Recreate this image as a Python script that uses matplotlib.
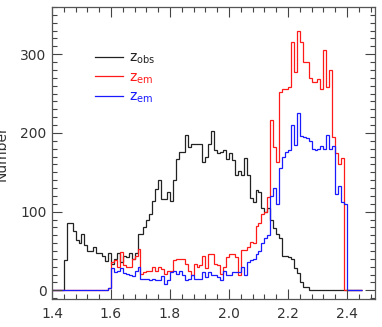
import numpy as np
import matplotlib
matplotlib.use('Agg')
import matplotlib.pyplot as plt
from matplotlib.ticker import MultipleLocator

plt.rcParams['font.family'] = 'DejaVu Sans'
plt.rcParams['mathtext.default'] = 'regular'

# histogram bins: 1.40 .. 2.45 in steps of 0.01
bin_start = 1.40
bin_width = 0.01

z_obs = [0, 0, 0, 0, 38, 85, 85, 75, 64, 60,
         72, 58, 50, 50, 55, 47, 47, 43, 37, 47,
         33, 40, 47, 36, 44, 42, 47, 40, 47, 72,
         72, 80, 89, 97, 114, 129, 140, 116, 116, 125,
         114, 140, 167, 176, 176, 197, 182, 186, 186, 186,
         186, 163, 169, 186, 203, 178, 174, 176, 178, 167,
         174, 165, 146, 152, 146, 168, 147, 117, 112, 127,
         125, 104, 99, 105, 89, 79, 72, 67, 44, 43,
         42, 40, 29, 22, 10, 4, 4, 0, 0, 0,
         0, 0, 0, 0, 0, 0, 0, 0, 0, 0,
         0, 0, 0, 0, 0]

z_em_red = [0, 0, 0, 0, 0, 0, 0, 0, 0, 0,
            0, 0, 0, 0, 0, 1, 1, 1, 1, 3,
            36, 38, 30, 49, 32, 30, 30, 40, 44, 53,
            21, 23, 25, 25, 30, 24, 30, 27, 21, 25,
            25, 38, 40, 40, 40, 34, 25, 19, 34, 30,
            32, 44, 28, 46, 46, 34, 32, 21, 30, 42,
            46, 46, 42, 19, 51, 51, 55, 62, 60, 82,
            85, 97, 100, 118, 216, 182, 163, 252, 256, 256,
            258, 315, 277, 330, 315, 290, 290, 270, 265, 265,
            268, 256, 305, 258, 280, 195, 174, 161, 168, 0,
            0, 0, 0, 0, 0]

z_em_blue = [0, 0, 0, 0, 0, 0, 0, 0, 0, 0,
             0, 0, 0, 0, 0, 1, 1, 1, 1, 3,
             28, 23, 25, 28, 22, 21, 20, 18, 25, 30,
             15, 15, 15, 13, 15, 13, 13, 18, 8, 13,
             23, 25, 21, 25, 19, 13, 15, 19, 15, 15,
             15, 23, 17, 23, 20, 19, 17, 13, 25, 19,
             20, 23, 23, 23, 30, 19, 36, 38, 40, 46,
             50, 60, 66, 70, 120, 130, 110, 155, 169, 176,
             178, 210, 185, 225, 196, 195, 193, 190, 180, 178,
             180, 183, 180, 197, 180, 184, 122, 133, 112, 110,
             0, 0, 0, 0, 0]

edges = bin_start + bin_width * np.arange(len(z_obs) + 1)

fig = plt.figure(figsize=(3.82, 3.27), dpi=100)
ax = fig.add_axes([52 / 382, 28 / 327, 323 / 382, 292 / 327])

ax.stairs(z_obs, edges, color='#222222', lw=0.9, label=r'z$_{obs}$')
ax.stairs(z_em_red, edges, color='#ff1a1a', lw=0.9, label=r'z$_{em}$')
ax.stairs(z_em_blue, edges, color='#1a1aff', lw=0.9, label=r'z$_{em}$')

ax.set_xlim(1.4, 2.495)
ax.set_ylim(-11, 360)
ax.xaxis.set_major_locator(MultipleLocator(0.2))
ax.xaxis.set_minor_locator(MultipleLocator(0.04))
ax.yaxis.set_major_locator(MultipleLocator(100))
ax.yaxis.set_minor_locator(MultipleLocator(10))
ax.set_xticks([1.4, 1.6, 1.8, 2.0, 2.2, 2.4])
ax.set_xticklabels(['1.4', '1.6', '1.8', '2.0', '2.2', '2.4'])

ax.tick_params(which='both', direction='in', top=True, right=True,
               colors='#444444', labelcolor='#333333', labelsize=10)
ax.tick_params(which='major', length=7, width=0.8)
ax.tick_params(which='minor', length=3.5, width=0.8)
ax.tick_params(axis='x', pad=6)
ax.tick_params(axis='y', pad=4)
for sp in ax.spines.values():
    sp.set_color('#555555')
    sp.set_linewidth(0.9)

# label sits partly off the left edge, as in the original figure
ax.set_ylabel('Number', fontsize=10, color='#333333')
ax.yaxis.set_label_coords(-0.135, 0.5)

leg = ax.legend(loc='upper left', bbox_to_anchor=(0.095, 0.893), frameon=False,
                handlelength=2.0, handletextpad=0.4, labelspacing=0.3,
                fontsize=10, labelcolor='linecolor')

fig.savefig('out.png', dpi=100)
